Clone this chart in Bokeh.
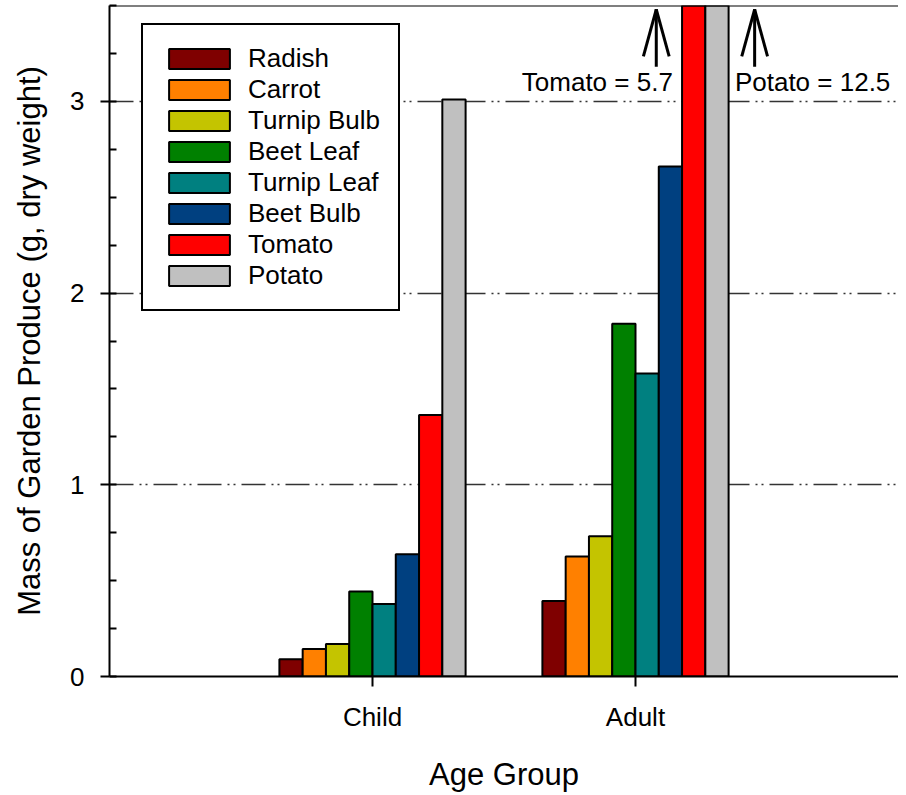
from bokeh.plotting import figure
from bokeh.models import (ColumnDataSource, FactorRange, Range1d, SingleIntervalTicker, Label, Span)
from bokeh.transform import dodge
from bokeh.embed import file_html
from bokeh.resources import INLINE

# ---- data ----
groups = ["Child", "Adult"]
produce = ["Radish", "Carrot", "Turnip Bulb", "Beet Leaf", "Turnip Leaf", "Beet Bulb", "Tomato", "Potato"]
child_mass = [0.09, 0.143, 0.169, 0.443, 0.378, 0.638, 1.364, 3.01]
adult_mass = [0.394, 0.626, 0.732, 1.84, 1.58, 2.66, 5.7, 12.5]
colors = ["#7f0000", "#ff8000", "#c4c400", "#008000", "#008080", "#004080", "#ff0000", "#c0c0c0"]
off_scale_labels = ["Tomato = 5.7", "Potato = 12.5"]
y_max = 3.5

FONT = "Liberation Sans"

p = figure(width=898, height=794, output_backend="svg", toolbar_location=None,
           x_range=FactorRange(factors=groups, range_padding=0.5, range_padding_units="absolute"),
           y_range=Range1d(0, y_max),
           min_border_left=109, min_border_right=0, min_border_top=5, min_border_bottom=114)
p.outline_line_color = None
p.background_fill_color = "white"

bw = 0.0885
n = len(produce)
for i, name in enumerate(produce):
    src = ColumnDataSource(dict(group=groups, top=[child_mass[i], adult_mass[i]]))
    p.vbar(x=dodge("group", (i - (n - 1) / 2) * bw, range=p.x_range), top="top", width=bw,
           source=src, fill_color=colors[i], line_color="black", line_width=2,
           legend_label=name)

# off-scale annotations for the Adult Tomato / Potato bars
adult_x = 1.5  # synthetic coordinate of "Adult"
arrow_dx = [0.079, 0.453]
head_dx = 0.049
tip_y, tail_y, head_y = 3.48, 3.18, 3.235
ax0, ay0, ax1, ay1 = [], [], [], []
for dx in arrow_dx:
    x = adult_x + dx
    ax0 += [x, x, x]
    ay0 += [tail_y, tip_y, tip_y]
    ax1 += [x, x - head_dx, x + head_dx]
    ay1 += [tip_y, head_y, head_y]
p.segment(x0=ax0, y0=ay0, x1=ax1, y1=ay1, line_color="black", line_width=3)

p.add_layout(Label(x=adult_x + 0.142, y=3.1, text=off_scale_labels[0], text_align="right",
                   text_baseline="alphabetic", text_font=FONT, text_font_size="26px",
                   text_color="black"))
p.add_layout(Label(x=adult_x + 0.378, y=3.1, text=off_scale_labels[1], text_align="left",
                   text_baseline="alphabetic", text_font=FONT, text_font_size="26px",
                   text_color="black"))

# axes
p.yaxis.ticker = SingleIntervalTicker(interval=1, num_minor_ticks=4)
p.yaxis.axis_label = "Mass of Garden Produce (g, dry weight)"
p.xaxis.axis_label = "Age Group"
for ax in (p.xaxis[0], p.yaxis[0]):
    ax.axis_line_width = 2
    ax.axis_line_color = "black"
    ax.major_tick_line_width = 2
    ax.minor_tick_line_width = 2
    ax.major_tick_line_color = "black"
    ax.minor_tick_line_color = "black"
    ax.major_label_text_font = FONT
    ax.major_label_text_font_size = "26px"
    ax.major_label_text_color = "black"
    ax.axis_label_text_font = FONT
    ax.axis_label_text_font_size = "31px"
    ax.axis_label_text_font_style = "normal"
    ax.axis_label_text_color = "black"
p.yaxis.major_tick_out = 9
p.yaxis.major_tick_in = 0
p.yaxis.minor_tick_out = 0
p.yaxis.minor_tick_in = 7
p.yaxis.major_label_standoff = 16
p.yaxis.axis_label_standoff = 20
p.xaxis.major_tick_out = 10
p.xaxis.major_tick_in = 0
p.xaxis.major_label_standoff = 15
p.xaxis.axis_label_standoff = 22

# top frame line
p.add_layout(Span(location=y_max, dimension="width", line_color="black", line_width=2))

# grid
p.xgrid.grid_line_color = None
p.ygrid.grid_line_color = "#333333"
p.ygrid.grid_line_width = 1.5
p.ygrid.grid_line_dash = "24 6 2 4 2 6"

# legend
leg = p.legend[0]
leg.location = (32, 365)
leg.border_line_color = "black"
leg.border_line_alpha = 1
leg.border_line_width = 2
leg.background_fill_color = "white"
leg.background_fill_alpha = 1
leg.padding = 18
leg.margin = 0
leg.spacing = 0
leg.glyph_width = 76
leg.glyph_height = 25
leg.label_height = 25
leg.label_standoff = 11
leg.label_text_font = FONT
leg.label_text_font_size = "26px"
leg.label_text_color = "black"
leg.label_text_baseline = "middle"

open("out.html", "w").write(file_html(p, INLINE))
